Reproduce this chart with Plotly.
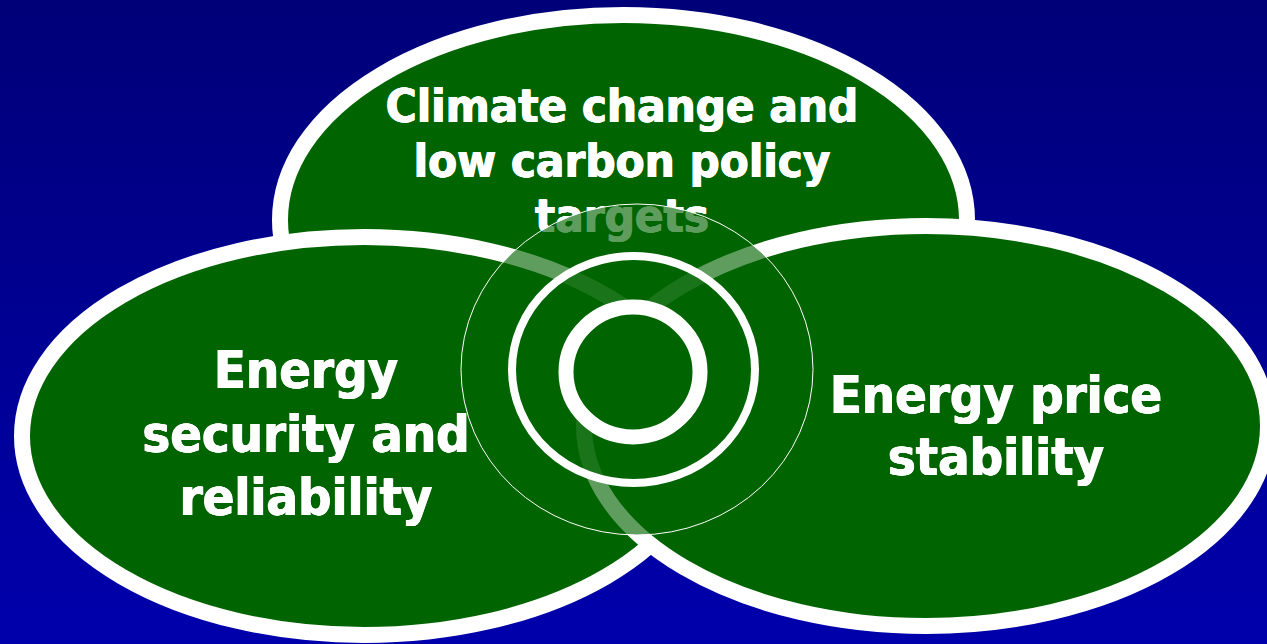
import base64
import plotly.graph_objects as go

W, H = 1267, 644

# ---- content -------------------------------------------------------------
top_lines = ["Climate change and", "low carbon policy", "targets"]
left_lines = ["Energy", "security and", "reliability"]
right_lines = ["Energy price", "stability"]

# big ellipses: centre x, centre y, radius x, radius y (outline centre line)
ellipse_names = ["Climate", "Security", "Price"]
ellipse_cx = [623.5, 364, 926]
ellipse_cy = [220, 436, 426]
ellipse_rx = [343.5, 342, 342]
ellipse_ry = [205, 199, 200]

# central target rings: centre x, centre y, radius x, radius y
ring_cx = [637, 633.5, 633]
ring_cy = [369.5, 369.5, 372]
ring_rx = [176, 121.5, 67]
ring_ry = [165.5, 113.5, 65]

# text anchors (line baselines) and sizes
top_x, top_base, top_size = 622, [126.7, 181.7, 236.7], 47
left_x, left_base, left_size = 306, [392.7, 456.7, 520], 52
right_x, right_base, right_size = 996, [418.3, 480], 52

GREEN = "#006400"
FONT = "DejaVu Sans Condensed, DejaVu Sans, sans-serif"
EMBOLDEN = "0.6px 0 0 white, -0.6px 0 0 white, 0 0.4px 0 white"

fig = go.Figure()

# background gradient as an inline svg image
svg = (
    f'<svg xmlns="http://www.w3.org/2000/svg" width="{W}" height="{H}" '
    f'viewBox="0 0 {W} {H}" preserveAspectRatio="none">'
    '<defs><linearGradient id="g" x1="0" y1="0" x2="0" y2="1">'
    '<stop offset="0" stop-color="#000078"/><stop offset="1" stop-color="#0000AC"/>'
    '</linearGradient></defs>'
    f'<rect width="{W}" height="{H}" fill="url(#g)"/></svg>'
)
src = "data:image/svg+xml;base64," + base64.b64encode(svg.encode()).decode()
fig.add_layout_image(dict(source=src, xref="paper", yref="paper", x=0, y=1,
                          sizex=1, sizey=1, sizing="stretch",
                          xanchor="left", yanchor="top", layer="below"))

# three big ellipses (below traces, drawn in order)
for cx, cy, rx, ry in zip(ellipse_cx, ellipse_cy, ellipse_rx, ellipse_ry):
    fig.add_shape(type="circle", xref="x", yref="y",
                  x0=cx - rx, x1=cx + rx, y0=cy - ry, y1=cy + ry,
                  fillcolor=GREEN, line=dict(color="white", width=16),
                  layer="below")


def add_text(lines, x, bases, size):
    ys = [b - 0.35 * size for b in bases]
    fig.add_trace(go.Scatter(
        x=[x] * len(lines), y=ys, text=lines, mode="text",
        textposition="middle center", hoverinfo="skip", showlegend=False,
        textfont=dict(family=FONT, size=size, color="white", weight="bold",
                      shadow=EMBOLDEN),
    ))


add_text(top_lines, top_x, top_base, top_size)
add_text(left_lines, left_x, left_base, left_size)
add_text(right_lines, right_x, right_base, right_size)

# central target (above traces)
ring_fill = ["rgba(0,100,0,0.63)", "rgba(0,100,0,0.72)", GREEN]
ring_width = [1, 8, 15]
for cx, cy, rx, ry, fc, lw in zip(ring_cx, ring_cy, ring_rx, ring_ry, ring_fill, ring_width):
    fig.add_shape(type="circle", xref="x", yref="y",
                  x0=cx - rx, x1=cx + rx, y0=cy - ry, y1=cy + ry,
                  fillcolor=fc, line=dict(color="white", width=lw),
                  layer="above")

fig.update_layout(
    width=W, height=H,
    margin=dict(l=0, r=0, t=0, b=0, pad=0),
    paper_bgcolor="#000090", plot_bgcolor="rgba(0,0,0,0)",
    showlegend=False,
    xaxis=dict(range=[0, W], visible=False, fixedrange=True),
    yaxis=dict(range=[H, 0], visible=False, fixedrange=True),
)

fig.write_html(
    "out.html",
    config={"displayModeBar": False},
    post_script="document.body.style.margin='0';document.body.style.overflow='hidden';",
)
